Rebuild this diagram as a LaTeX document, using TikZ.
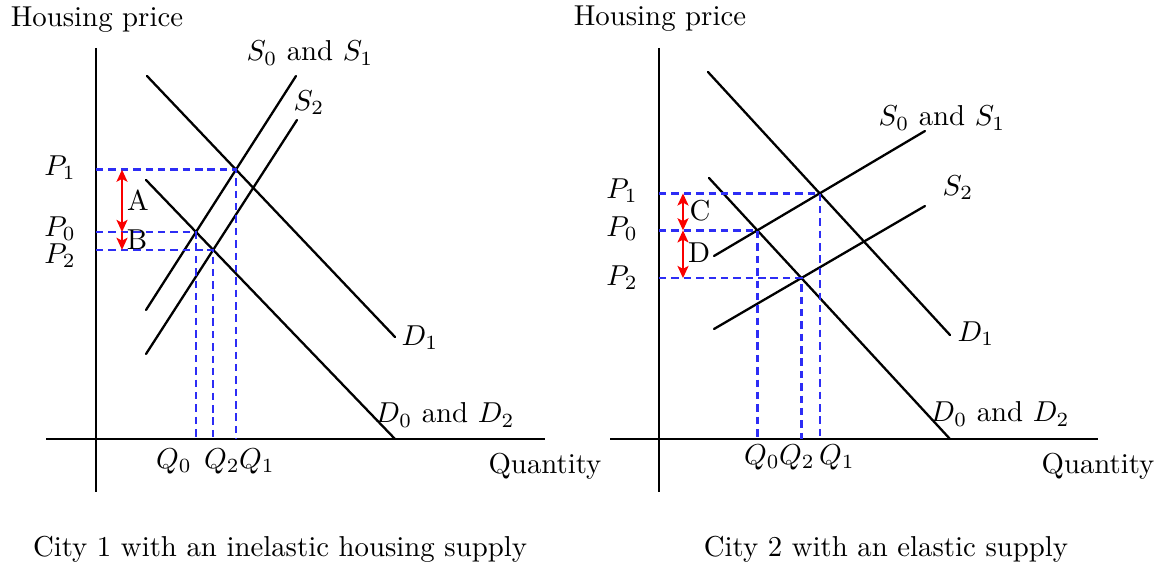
\documentclass[tikz,border=0pt]{standalone}
\usepackage{amsmath,amssymb}
\usetikzlibrary{arrows.meta,positioning,calc}
\tikzset{
  axisln/.style={line width=0.8pt},
  curveln/.style={line width=0.8pt, line cap=round},
  projln/.style={dash pattern=on 2.6pt off 1.7pt, line width=0.85pt, projcolor},
  gapln/.style={{Stealth[length=4.2pt,width=3.8pt,inset=1pt]}-{Stealth[length=4.2pt,width=3.8pt,inset=1pt]}, line width=0.85pt, gapcolor},
  downln/.style={-{Stealth[length=4.2pt,width=3.8pt,inset=1pt]}, line width=0.85pt, gapcolor},
  lbl/.style={inner sep=0pt},
}
\definecolor{projcolor}{RGB}{45,45,245}
\definecolor{gapcolor}{RGB}{250,0,0}

\begin{document}
\begin{tikzpicture}[x=0.0122cm, y=-0.0122cm]
    \useasboundingbox (0,0) rectangle (1160,568);
    % city 1: inelastic supply
    \coordinate (ytop1) at (96,48);
    \coordinate (ybot1) at (96,492);
    \coordinate (xlft1) at (46,439);
    \coordinate (xrgt1) at (545,439);
    \draw[axisln] (ytop1) -- (ybot1);
    \draw[axisln] (xlft1) -- (xrgt1);
    \node[lbl] (hp1) at (97,20) {Housing price};
    \node[lbl] (qty1) at (545,466) {Quantity};
    \coordinate (sa1) at (146,310);
    \coordinate (sb1) at (296,76);
    \coordinate (ta1) at (146,354);
    \coordinate (tb1) at (297,120);
    \coordinate (da1) at (147,76);
    \coordinate (db1) at (395,337);
    \coordinate (ea1) at (146,180);
    \coordinate (eb1) at (395,439);
    \draw[curveln] (sa1) -- (sb1);
    \draw[curveln] (ta1) -- (tb1);
    \draw[curveln] (da1) -- (db1);
    \draw[curveln] (ea1) -- (eb1);
    \node[lbl] (s01) at (310,53) {$S_0$ and $S_1$};
    \node[lbl] (s21) at (309,103) {$S_2$};
    \node[lbl] (d11) at (420,338) {$D_1$};
    \node[lbl] (d01) at (445,415) {$D_0$ and $D_2$};
    \coordinate (k1) at (intersection of sa1--sb1 and da1--db1);
    \coordinate (k0) at (intersection of sa1--sb1 and ea1--eb1);
    \coordinate (k2) at (intersection of ta1--tb1 and ea1--eb1);
    \foreach \k in {k1, k0, k2} {
      \draw[projln] (\k -| ytop1) -- (\k) -- (\k |- xlft1);
    }
    \node[lbl] (p11) at (60,168) {$P_1$};
    \node[lbl] (p01) at (60,229) {$P_0$};
    \node[lbl] (p21) at (60,256) {$P_2$};
    \node[lbl] (q01) at (174,461) {$Q_0$};
    \node[lbl] (q21) at (222,461) {$Q_2$};
    \node[lbl] (q11) at (257,461) {$Q_1$};
    \coordinate (ga1) at (k1 -| 122,0);
    \coordinate (gb1) at (k0 -| 122,0);
    \coordinate (gc1) at (k2 -| 122,0);
    \draw[gapln] (ga1) -- (gb1);
    \draw[downln] (gb1) -- (gc1);
    \node[lbl] (a1) at (138,200) {A};
    \node[lbl] (b1) at (137,240) {B};
    \node[lbl] (cap1) at (280,549) {City 1 with an inelastic housing supply};
    % city 2: elastic supply
    \coordinate (ytop2) at (659,48);
    \coordinate (ybot2) at (659,492);
    \coordinate (xlft2) at (610,439);
    \coordinate (xrgt2) at (1098,439);
    \draw[axisln] (ytop2) -- (ybot2);
    \draw[axisln] (xlft2) -- (xrgt2);
    \node[lbl] (hp2) at (660,19) {Housing price};
    \node[lbl] (qty2) at (1098,466) {Quantity};
    \coordinate (sa2) at (714,256);
    \coordinate (sb2) at (925,131);
    \coordinate (ta2) at (714,329);
    \coordinate (tb2) at (925,206);
    \coordinate (da2) at (708,72);
    \coordinate (db2) at (950,335);
    \coordinate (ea2) at (709,178);
    \coordinate (eb2) at (950,439);
    \draw[curveln] (sa2) -- (sb2);
    \draw[curveln] (ta2) -- (tb2);
    \draw[curveln] (da2) -- (db2);
    \draw[curveln] (ea2) -- (eb2);
    \node[lbl] (s02) at (942,118) {$S_0$ and $S_1$};
    \node[lbl] (s22) at (958,188) {$S_2$};
    \node[lbl] (d12) at (976,334) {$D_1$};
    \node[lbl] (d02) at (1000,414) {$D_0$ and $D_2$};
    \coordinate (m1) at (intersection of sa2--sb2 and da2--db2);
    \coordinate (m0) at (intersection of sa2--sb2 and ea2--eb2);
    \coordinate (m2) at (intersection of ta2--tb2 and ea2--eb2);
    \foreach \k in {m1, m0, m2} {
      \draw[projln] (\k -| ytop2) -- (\k) -- (\k |- xlft2);
    }
    \node[lbl] (p12) at (622,191) {$P_1$};
    \node[lbl] (p02) at (622,229) {$P_0$};
    \node[lbl] (p22) at (622,278) {$P_2$};
    \node[lbl] (q02) at (762,457) {$Q_0$};
    \node[lbl] (q22) at (797,457) {$Q_2$};
    \node[lbl] (q12) at (837,457) {$Q_1$};
    \coordinate (ga2) at (m1 -| 683,0);
    \coordinate (gb2) at (m0 -| 683,0);
    \coordinate (gc2) at (m2 -| 683,0);
    \draw[gapln] (ga2) -- (gb2);
    \draw[gapln] (gb2) -- (gc2);
    \node[lbl] (c2) at (700,211) {C};
    \node[lbl] (dd2) at (699,253) {D};
    \node[lbl] (cap2) at (886,549) {City 2 with an elastic supply};
\end{tikzpicture}
\end{document}
